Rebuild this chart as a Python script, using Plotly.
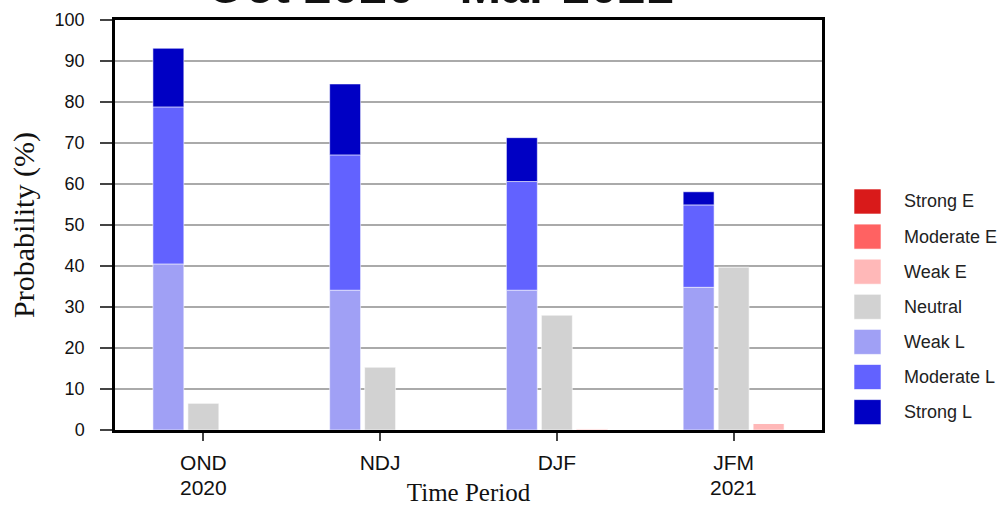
import plotly.graph_objects as go

periods = ["OND", "NDJ", "DJF", "JFM"]
years = ["2020", "", "", "2021"]

weak_l = [40.5, 34.1, 34.1, 34.8]
moderate_l = [38.3, 33.0, 26.5, 20.1]
strong_l = [14.3, 17.3, 10.7, 3.2]
neutral = [6.5, 15.3, 28.0, 39.7]
weak_e = [0.0, 0.0, 0.3, 1.6]
moderate_e = [0.0, 0.0, 0.0, 0.0]
strong_e = [0.0, 0.0, 0.0, 0.0]

legend_names = ["Strong E", "Moderate E", "Weak E", "Neutral", "Weak L", "Moderate L", "Strong L"]
colors = {
    "Strong E": "#D91A1A",
    "Moderate E": "#FF6262",
    "Weak E": "#FFB8B8",
    "Neutral": "#D2D2D2",
    "Weak L": "#A0A0F5",
    "Moderate L": "#6262FF",
    "Strong L": "#0000C4",
}

BW = 0.175
OFF = 0.198

def cum(*arrs):
    return [sum(v) for v in zip(*arrs)]

fig = go.Figure()
groups = [
    (-OFF, [("Weak L", weak_l), ("Moderate L", moderate_l), ("Strong L", strong_l)]),
    (0.0, [("Neutral", neutral)]),
    (OFF, [("Weak E", weak_e), ("Moderate E", moderate_e), ("Strong E", strong_e)]),
]
for center, stack in groups:
    prev = []
    for name, vals in stack:
        base = cum(*prev) if prev else [0] * len(vals)
        fig.add_trace(go.Bar(
            x=periods, y=vals, base=base, name=name,
            width=BW, offset=center - BW / 2,
            marker=dict(color=colors[name], line=dict(color="rgba(255,255,255,0.55)", width=1)),
            showlegend=False,
        ))
        prev.append(vals)

# plot area in pixels
L, R, T, B = 115, 822, 20, 430
W, H = 997, 506
pw = R - L
ph = B - T

SANS = "Liberation Sans, Arial, Helvetica"
SERIF = "Liberation Serif, Times New Roman"

# manual legend
for i, name in enumerate(legend_names):
    cy = 201.5 + i * 35.1
    fig.add_shape(type="rect", xref="paper", yref="paper",
                  x0=(854 - L) / pw, x1=(881 - L) / pw,
                  y0=(B - (cy + 12.5)) / ph, y1=(B - (cy - 12.5)) / ph,
                  fillcolor=colors[name], line=dict(color="rgba(255,255,255,0.6)", width=1))
    fig.add_annotation(text=name, xref="paper", yref="paper",
                       x=(902 - L) / pw, y=(B - cy) / ph, xanchor="left", yanchor="middle",
                       showarrow=False, font=dict(family=SANS, size=18, color="#222"))

# year labels under tick labels
for p, yr in zip(periods, years):
    if yr:
        fig.add_annotation(text=yr, x=p, xref="x", yref="paper", y=(B - 488) / ph,
                           yanchor="middle", showarrow=False,
                           font=dict(family=SANS, size=21, color="#111"))

fig.update_layout(
    width=W, height=H,
    margin=dict(l=L, r=W - R, t=T, b=H - B, autoexpand=False),
    barmode="overlay",
    plot_bgcolor="white", paper_bgcolor="white",
    title=dict(text="<b>Oct 2020 - Mar 2021</b>", x=440 / W, xanchor="center",
               xref="container", yref="container", y=1 - 2.5 / H, yanchor="bottom",
               pad=dict(b=0, t=0),
               font=dict(family=SANS, size=50, color="#111")),
    xaxis=dict(
        range=[-0.5, 3.5], showgrid=False, showline=True, linecolor="black", linewidth=2.5,
        mirror=True, ticks="outside", ticklen=8, tickcolor="#444", tickwidth=1.5,
        tickfont=dict(family=SANS, size=21, color="#111"),
        ticklabelstandoff=4, automargin=False,
        title=dict(text="Time Period", standoff=48,
                   font=dict(family=SERIF, size=25, color="#111")),
    ),
    yaxis=dict(
        range=[0, 100], dtick=10, showgrid=True, gridcolor="#AAAAAA", gridwidth=1.5,
        showline=True, linecolor="black", linewidth=2.5, mirror=True, zeroline=False,
        ticks="outside", ticklen=12, tickcolor="#444", tickwidth=1.5,
        tickfont=dict(family=SANS, size=18, color="#111"),
        ticklabelstandoff=12, automargin=False,
        title=dict(text="Probability (%)", standoff=12,
                   font=dict(family=SERIF, size=30, color="#111")),
    ),
)

fig.write_html("out.html", config={"displayModeBar": False},
               post_script="document.body.style.margin='0px';")
